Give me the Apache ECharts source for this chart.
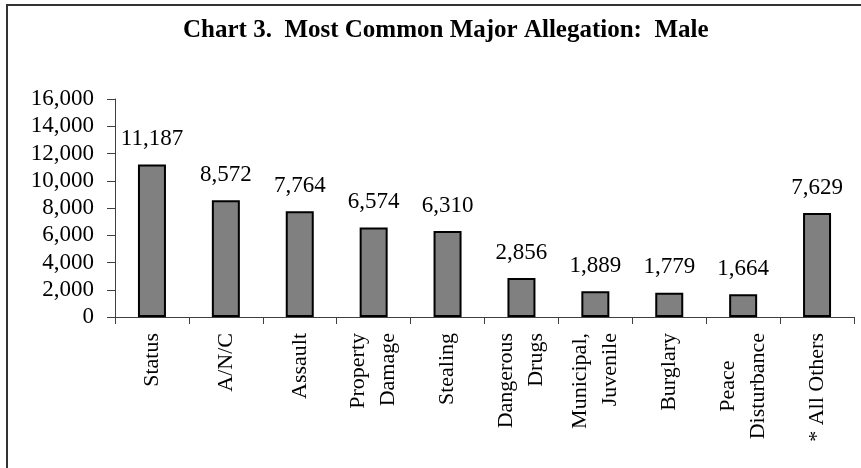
<!DOCTYPE html>
<html>
<head>
<meta charset="utf-8">
<script src="https://cdn.jsdelivr.net/npm/echarts@6/dist/echarts.min.js"></script>
<style>
html,body{margin:0;padding:0;background:#fff;}
#chart{width:861px;height:468px;}
</style>
</head>
<body>
<div id="chart"></div>
<script>
var titleText = 'Chart 3.  Most Common Major Allegation:  Male';
var categories = ['Status', 'A/N/C', 'Assault', 'Property\nDamage', 'Stealing', 'Dangerous\nDrugs', 'Municipal,\nJuvenile', 'Burglary', 'Peace     \nDisturbance', '* All Others'];
var values = [11187, 8572, 7764, 6574, 6310, 2856, 1889, 1779, 1664, 7629];
var yMin = 0, yMax = 16000, yStep = 2000;

var FONT = '"Liberation Serif", "Times New Roman", serif';
function fmt(v){ return String(v).replace(/\B(?=(\d{3})+(?!\d))/g, ','); }

var chart = echarts.init(document.getElementById('chart'), null, {renderer:'canvas'});
chart.setOption({
  animation:false,
  backgroundColor:'#fff',
  title:{
    text:titleText, left:178, top:13,
    textStyle:{fontFamily:FONT, fontWeight:'bold', fontSize:25, color:'#000'}
  },
  graphic:[{
    type:'rect', shape:{x:7, y:5, width:900, height:500},
    style:{fill:null, stroke:'#333', lineWidth:2}, silent:true
  }],
  grid:{left:115, right:7, top:99, bottom:151, containLabel:false},
  xAxis:{
    type:'category', data:categories, boundaryGap:true,
    axisLine:{lineStyle:{color:'#404040', width:1}},
    axisTick:{show:true, length:7, alignWithLabel:false, lineStyle:{color:'#404040'}},
    axisLabel:{rotate:90, interval:0, margin:16, color:'#000', fontFamily:FONT, fontSize:22, lineHeight:30}
  },
  yAxis:{
    type:'value', min:yMin, max:yMax, interval:yStep,
    axisLine:{show:true, lineStyle:{color:'#404040', width:1}},
    axisTick:{show:true, length:8, lineStyle:{color:'#404040'}},
    splitLine:{show:false},
    axisLabel:{margin:21, color:'#000', fontFamily:FONT, fontSize:23, formatter:function(v){return fmt(v);}}
  },
  series:[{
    type:'bar', data:values, barWidth:28,
    itemStyle:{color:'#808080', borderColor:'#000', borderWidth:2},
    label:{show:true, position:'top', distance:14, color:'#000', fontFamily:FONT, fontSize:23,
      formatter:function(p){return fmt(p.value);}}
  }]
});
</script>
</body>
</html>
